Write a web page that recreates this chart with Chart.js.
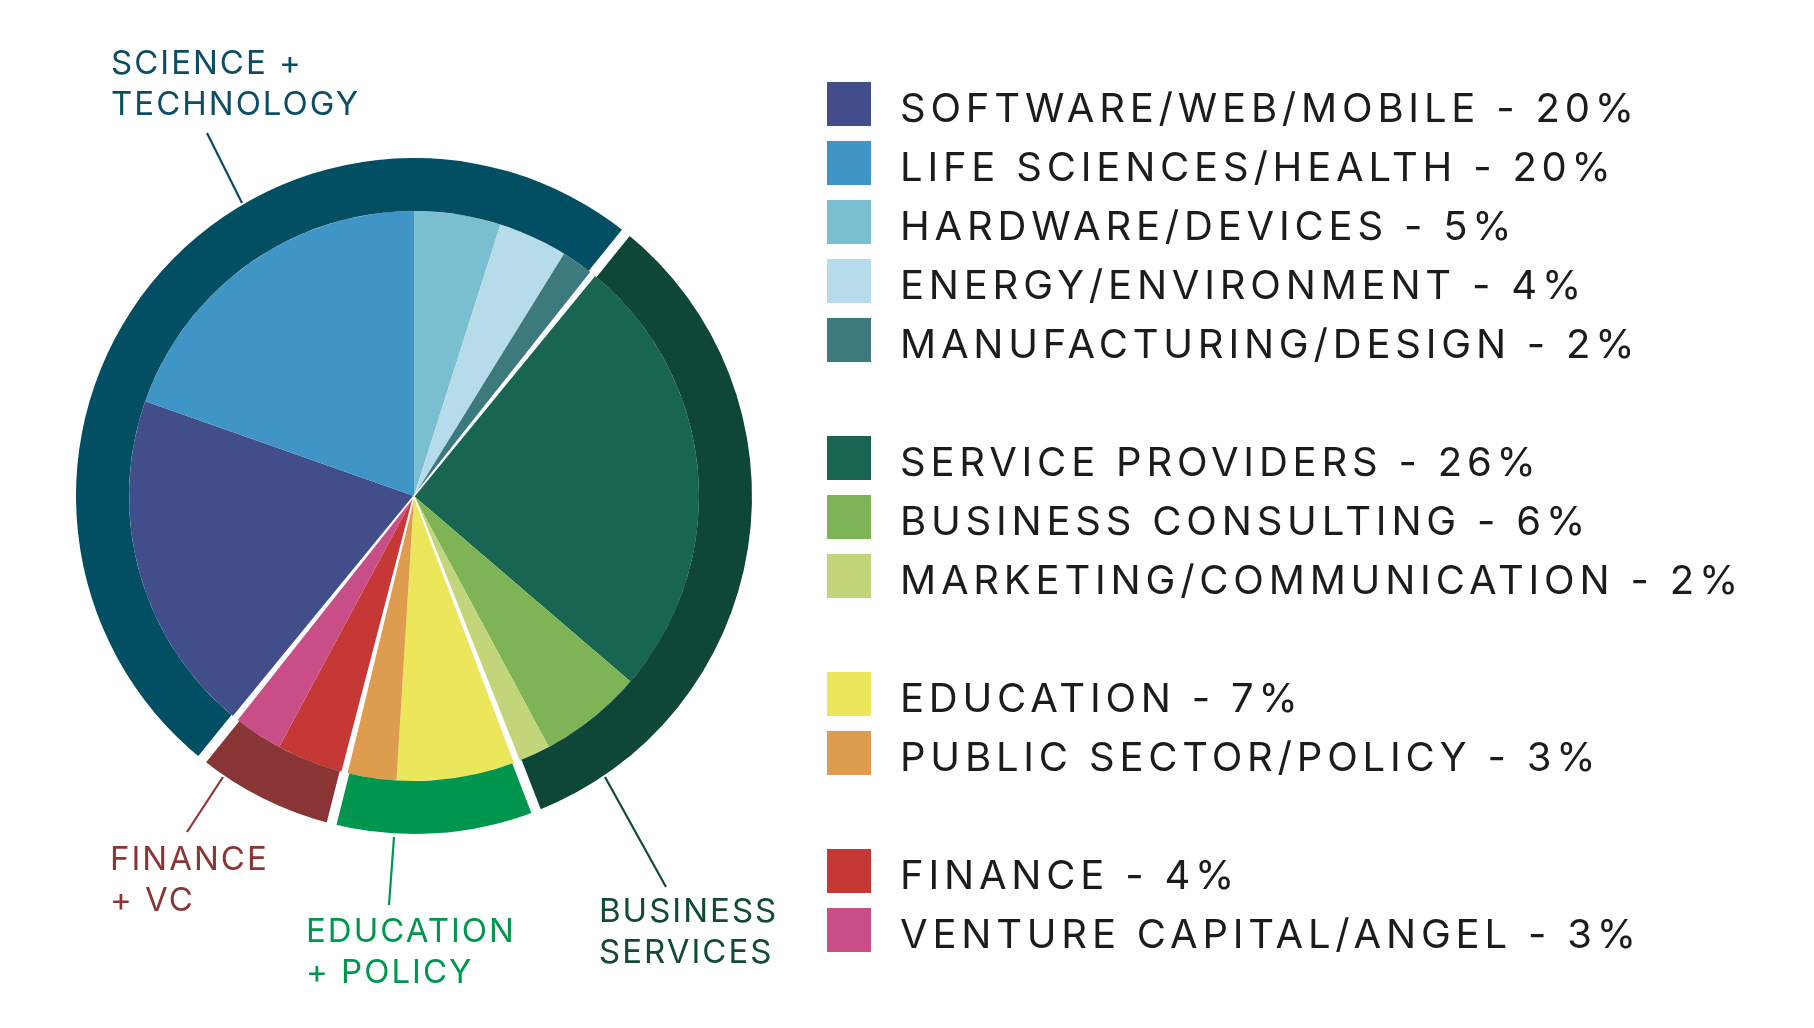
<!DOCTYPE html>
<html>
<head>
<meta charset="utf-8">
<script src="https://cdn.jsdelivr.net/npm/chart.js@4"></script>
<style>
  html, body { margin: 0; padding: 0; background: #fff; }
  body { width: 1814px; height: 1028px; position: relative; overflow: hidden; font-family: Inter, "Open Sans", sans-serif; }
  #pie { position: absolute; left: 0; top: 0; width: 1814px; height: 1028px; }
  .group { position: absolute; font-size: 33px; line-height: 41px; letter-spacing: 2px; white-space: pre; }
  .row { position: absolute; left: 827px; height: 44px; }
  .row .sw { position: absolute; left: 0; top: 0; width: 44px; height: 44px; }
  .row .tx { position: absolute; left: 73px; top: 4px; font-size: 40px; line-height: 44px; letter-spacing: 4.8px; color: #1c1c1c; white-space: nowrap; }
  svg { position: absolute; left: 0; top: 0; }
</style>
</head>
<body>
<canvas id="pie" width="1814" height="1028"></canvas>
<svg width="1814" height="1028" id="leaders"></svg>
<div id="legend"></div>

<script>
// sectors, in legend order (clockwise on the pie, starting at software)
const sectors = [
  'SOFTWARE/WEB/MOBILE', 'LIFE SCIENCES/HEALTH', 'HARDWARE/DEVICES',
  'ENERGY/ENVIRONMENT', 'MANUFACTURING/DESIGN', 'SERVICE PROVIDERS',
  'BUSINESS CONSULTING', 'MARKETING/COMMUNICATION', 'EDUCATION',
  'PUBLIC SECTOR/POLICY', 'FINANCE', 'VENTURE CAPITAL/ANGEL'
];
const shares = [20, 20, 5, 4, 2, 26, 6, 2, 7, 3, 4, 3];
const sectorGroup = [0, 0, 0, 0, 0, 1, 1, 1, 2, 2, 3, 3];
const sectorColors = [
  '#424e8a', '#3e95c6', '#79bfd0', '#b6dbea', '#3d7a7e', '#186552',
  '#7eb356', '#c2d57b', '#ebe65a', '#de9c4e', '#c63835', '#c94d87'
];

const groups = ['SCIENCE +\nTECHNOLOGY', 'BUSINESS\nSERVICES', 'EDUCATION\n+ POLICY', 'FINANCE\n+ VC'];
const groupColors = ['#024e62', '#0e4637', '#00964e', '#8a3535'];
const groupTextColors = ['#0b4e63', '#114a3b', '#00964e', '#8b3535'];

// sum of sectors per group
const groupShares = groups.map((g, i) =>
  shares.reduce((s, v, j) => s + (sectorGroup[j] === i ? v : 0), 0));

const total = shares.reduce((a, b) => a + b, 0);
// life sciences ends at 12 o'clock
const startAngle = 360 * (total - shares[0] - shares[1]) / total;

// white gaps between groups, through ring and pie
const groupGaps = {
  id: 'groupGaps',
  afterDatasetsDraw(chart) {
    const ring = chart.getDatasetMeta(0).data;
    const rIn = chart.getDatasetMeta(1).data[0].outerRadius;
    const ctx = chart.ctx;
    ctx.save();
    ctx.fillStyle = '#fff';
    ring.forEach(arc => {
      const a = arc.startAngle, cx = arc.x, cy = arc.y, R = arc.outerRadius + 4;
      const p = (r, s) => [cx + r * Math.cos(a) - s * Math.sin(a), cy + r * Math.sin(a) + s * Math.cos(a)];
      const pts = [p(0, 0.8), p(rIn, 3.2), p(rIn, 5), p(R, 5), p(R, -5), p(rIn, -5), p(rIn, -3.2), p(0, -0.8)];
      ctx.beginPath();
      pts.forEach((q, i) => i ? ctx.lineTo(q[0], q[1]) : ctx.moveTo(q[0], q[1]));
      ctx.closePath();
      ctx.fill();
    });
    ctx.restore();
  }
};

new Chart(document.getElementById('pie'), {
  type: 'pie',
  data: {
    labels: sectors,
    datasets: [
      {
        data: groupShares,
        backgroundColor: groupColors,
        weight: 53,
        rotation: startAngle
      },
      {
        data: shares,
        backgroundColor: sectorColors,
        weight: 285,
        rotation: startAngle
      }
    ]
  },
  options: {
    responsive: false,
    maintainAspectRatio: false,
    animation: false,
    events: [],
    layout: { padding: { left: 76, top: 158, right: 1062, bottom: 194 } },
    elements: { arc: { borderWidth: 0, hoverBorderWidth: 0, offset: 0, hoverOffset: 0 } },
    plugins: { legend: { display: false }, tooltip: { enabled: false } }
  },
  plugins: [groupGaps]
});

// group labels and leader lines
const groupLabelPos = [[111, 42], [599, 890], [306, 910], [110, 838]];
const leaderLines = [[207, 133, 242, 203], [666, 887, 605, 777], [389, 905, 394, 837], [187, 832, 223, 777]];
const svg = document.getElementById('leaders');
groups.forEach((g, i) => {
  const d = document.createElement('div');
  d.className = 'group';
  d.style.left = groupLabelPos[i][0] + 'px';
  d.style.top = groupLabelPos[i][1] + 'px';
  d.style.color = groupTextColors[i];
  d.textContent = g;
  document.body.appendChild(d);
  const [x1, y1, x2, y2] = leaderLines[i];
  const l = document.createElementNS('http://www.w3.org/2000/svg', 'line');
  l.setAttribute('x1', x1); l.setAttribute('y1', y1);
  l.setAttribute('x2', x2); l.setAttribute('y2', y2);
  l.setAttribute('stroke', groupTextColors[i]);
  l.setAttribute('stroke-width', 2.2);
  svg.appendChild(l);
});

// legend: one row per sector, blank row between groups
const legend = document.getElementById('legend');
let row = 0;
sectors.forEach((s, i) => {
  if (i > 0 && sectorGroup[i] !== sectorGroup[i - 1]) row++;
  const r = document.createElement('div');
  r.className = 'row';
  r.style.top = (82 + row * 59) + 'px';
  r.innerHTML = '<div class="sw" style="background:' + sectorColors[i] + '"></div>' +
    '<div class="tx">' + s + ' - ' + shares[i] + '%</div>';
  legend.appendChild(r);
  row++;
});
</script>
</body>
</html>
